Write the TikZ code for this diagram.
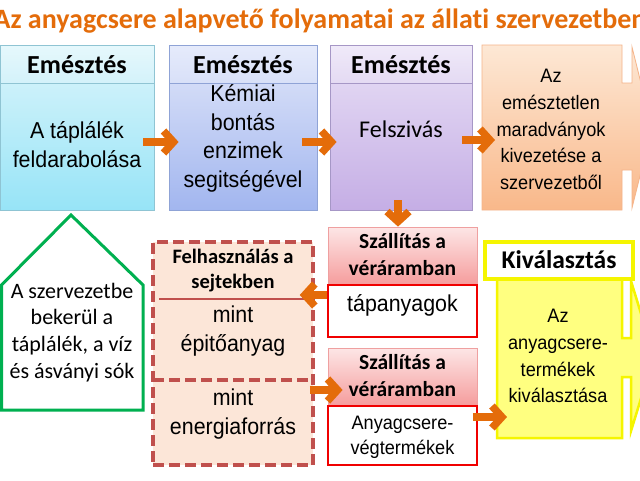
\documentclass[tikz,border=0pt]{standalone}
\usepackage{fontspec}
\setmainfont[Ligatures=NoCommon]{Carlito}
\newfontfamily\arl[FakeStretch=0.93]{Liberation Sans}
\usetikzlibrary{arrows.meta}
\definecolor{orng}{HTML}{E46C0A}
\definecolor{c1e}{HTML}{8FC4D3}
\definecolor{c1a}{HTML}{E6F8FC}
\definecolor{c1b}{HTML}{D3F2FA}
\definecolor{c1c}{HTML}{CCF1FA}
\definecolor{c1d}{HTML}{97E4F7}
\definecolor{c2e}{HTML}{8FA3D6}
\definecolor{c2a}{HTML}{E6EBFB}
\definecolor{c2b}{HTML}{D8E0F8}
\definecolor{c2c}{HTML}{D2DBF7}
\definecolor{c2d}{HTML}{A2B6EF}
\definecolor{c3e}{HTML}{A697C6}
\definecolor{c3a}{HTML}{F0EAF9}
\definecolor{c3b}{HTML}{E4DAF3}
\definecolor{c3c}{HTML}{E0D4F2}
\definecolor{c3d}{HTML}{C5AEE5}
\definecolor{c4e}{HTML}{F5B48A}
\definecolor{c4a}{HTML}{FDE8D5}
\definecolor{c4b}{HTML}{F9B88A}
\definecolor{pke}{HTML}{EFA0A0}
\definecolor{pka}{HTML}{FDE6E6}
\definecolor{pkb}{HTML}{F59C9C}
\definecolor{redb}{HTML}{F00000}
\definecolor{dsh}{HTML}{C0504D}
\definecolor{peach}{HTML}{FCE6D8}
\definecolor{grn}{HTML}{00B050}
\definecolor{ylw}{HTML}{FFFF80}
\definecolor{ylwe}{HTML}{F5F500}
\begin{document}
\begin{tikzpicture}[x=1pt,y=-1pt,
  box/.style={inner sep=0pt, line width=0.8pt},
  hd/.style={anchor=base, inner sep=0pt, font=\bfseries\fontsize{26}{30}\selectfont},
  tx/.style={align=center, inner sep=0pt, font=\arl\fontsize{23}{28.4}\selectfont},
  txs/.style={align=center, inner sep=0pt, font=\arl\fontsize{19.5}{26.7}\selectfont},
  bh/.style={align=center, inner sep=0pt, font=\bfseries\fontsize{21.5}{27}\selectfont},
  flow/.style={draw=orng, line width=7.5pt, -{Straight Barb[length=10pt,width=22pt]}}
]
\useasboundingbox (0,0) rectangle (640,480);
\fill[white] (0,0) rectangle (640,480);

% title
\node[anchor=base, inner sep=0pt, text=orng, font=\bfseries\fontsize{28}{32}\selectfont] (ttl) at (320,28) {Az anyagcsere alapvető folyamatai az állati szervezetben};

% box 1
\node[box, draw=c1e, top color=c1c, bottom color=c1d, minimum width=154pt, minimum height=127pt] (b1) at (77,146.5) {};
\node[box, draw=c1e, top color=c1a, bottom color=c1b, minimum width=154pt, minimum height=38pt] (h1) at (77,64) {};
\node[hd] (e1) at (77,73) {Emésztés};
\node[tx] (tb1) at (77,144.5) {A táplálék\\feldarabolása};

% box 2
\node[box, draw=c2e, top color=c2c, bottom color=c2d, minimum width=148pt, minimum height=127pt] (b2) at (243,146.5) {};
\node[box, draw=c2e, top color=c2a, bottom color=c2b, minimum width=148pt, minimum height=38pt] (h2) at (243,64) {};
\node[hd] (e2) at (243,73) {Emésztés};
\node[tx] (tb2) at (243,138.5) {Kémiai\\bontás\\enzimek\\segitségével};

% box 3
\node[box, draw=c3e, top color=c3c, bottom color=c3d, minimum width=142pt, minimum height=127pt] (b3) at (401,146.5) {};
\node[box, draw=c3e, top color=c3a, bottom color=c3b, minimum width=142pt, minimum height=38pt] (h3) at (401,64) {};
\node[hd] (e3) at (401,73) {Emésztés};
\node[anchor=base, inner sep=0pt, font=\fontsize{24}{28}\selectfont] (tb3) at (401,137) {Felszivás};

% box 4 (arrow callout)
\shade[top color=c4a, bottom color=c4b, draw=c4e, line width=0.8pt]
  (482,45) -- (622,45) -- (622,83) -- (632,83) -- (632,47) -- (652,127.5) -- (632,208) -- (632,170) -- (622,170) -- (622,210) -- (482,210) -- cycle;
\coordinate (o4w) at (482,140);
\node[align=center, inner sep=0pt, font=\arl\fontsize{19.5}{26.7}\selectfont] (tb4) at (551,129.5) {Az\\emésztetlen\\maradványok\\kivezetése a\\szervezetből};

% arrows top row
\draw[flow] ([shift={(-11,-4.5)}]b1.east) -- ([shift={(10,-4.5)}]b2.west);
\draw[flow] ([shift={(-15,-4.5)}]b2.east) -- ([shift={(7,-4.5)}]b3.west);
\draw[flow] ([shift={(-10,-6.5)}]b3.east) -- ([shift={(13,0)}]o4w);

% green house
\draw[grn, line width=3pt, fill=white] (1.5,285) -- (71,215) -- (143,285) -- (143,410) -- (1.5,410) -- cycle;
\node[align=center, inner sep=0pt, font=\fontsize{22}{26.7}\selectfont] (ht) at (72,332.3) {A szervezetbe\\bekerül a\\táplálék, a víz\\és ásványi sók};

% dashed box
\node[draw=dsh, fill=peach, line width=3.5pt, dash pattern=on 11pt off 5pt, minimum width=160pt, minimum height=223pt, inner sep=0pt] (fu) at (233,353.5) {};
\coordinate (dvL) at (153,380);
\coordinate (dvR) at (313,380);
\draw[dsh, line width=3.5pt, dash pattern=on 11pt off 5pt] (dvL) -- (dvR);
\coordinate (spL) at (159,299);
\coordinate (spR) at (308,299);
\draw[dsh, line width=2pt] (spL) -- (spR);
\node[align=center, inner sep=0pt, font=\bfseries\fontsize{20.5}{25}\selectfont] (fh) at (233,270.5) {Felhasználás a\\sejtekben};
\node[tx] (fm1) at (233,331) {mint\\épitőanyag};
\node[tx] (fm2) at (233,414) {mint\\energiaforrás};

% transport boxes
\node[box, draw=pke, top color=pka, bottom color=pkb, minimum width=149pt, minimum height=58pt] (s1) at (402.5,256) {};
\node[box, draw=redb, line width=1.5pt, fill=white, minimum width=149pt, minimum height=52pt] (t1) at (402.5,311) {};
\node[bh] (sh1) at (402.5,255) {Szállítás a\\véráramban};
\node[anchor=base, inner sep=0pt, font=\arl\fontsize{23}{28}\selectfont] (tt1) at (402.5,311) {tápanyagok};

\node[box, draw=pke, top color=pka, bottom color=pkb, minimum width=149pt, minimum height=58pt] (s2) at (402.5,377) {};
\node[box, draw=redb, line width=1.5pt, fill=white, minimum width=149pt, minimum height=59pt] (t2) at (402.5,435.5) {};
\node[bh] (sh2) at (402.5,376) {Szállítás a\\véráramban};
\node[txs, font=\arl\fontsize{19.5}{25}\selectfont] (tt2) at (402.5,437.7) {Anyagcsere-\\végtermékek};

% yellow arrow callout
\filldraw[fill=ylw, draw=ylwe, line width=2.5pt]
  (497,279) -- (622,279) -- (622,338) -- (631,338) -- (631,281) -- (654,356) -- (631,431) -- (631,377) -- (622,377) -- (622,438) -- (497,438) -- cycle;
\coordinate (yw) at (497,417);
\node[draw=ylwe, line width=3.5pt, fill=white, minimum width=148pt, minimum height=37pt, inner sep=0pt] (kh) at (559,260.5) {};
\node[anchor=base, inner sep=0pt, font=\bfseries\fontsize{25.5}{30}\selectfont] (kt) at (559,268) {Kiválasztás};
\node[txs] (ky) at (558,356.2) {Az\\anyagcsere-\\termékek\\kiválasztása};

% arrows bottom
\draw[flow] ([shift={(-3,-10)}]b3.south) -- ([shift={(-4.5,0)}]s1.north);
\draw[flow] ([shift={(0,-16)}]t1.west) -- ([shift={(-15,-58.5)}]fu.east);
\draw[flow] ([shift={(-5,36.5)}]fu.east) -- ([shift={(15,13)}]s2.west);
\draw[flow] ([shift={(-5,-18.5)}]t2.east) -- ([shift={(10,0)}]yw);
\end{tikzpicture}
\end{document}
